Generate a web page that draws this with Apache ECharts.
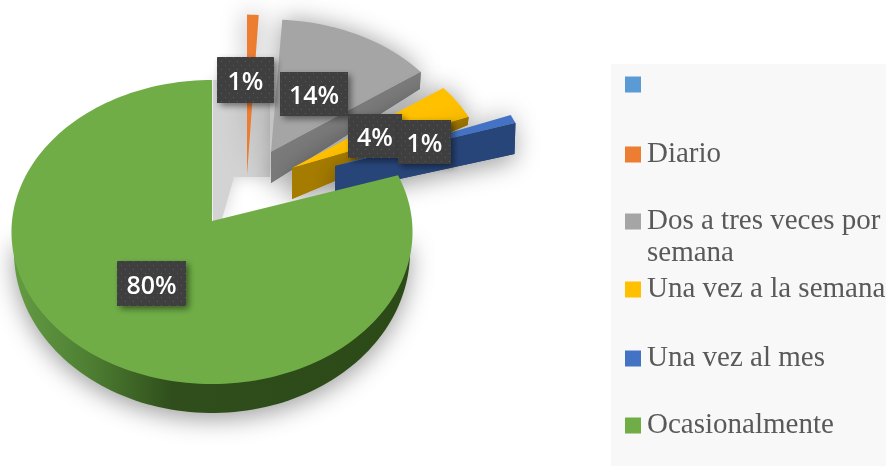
<!DOCTYPE html>
<html><head><meta charset="utf-8">
<style>html,body{margin:0;padding:0;background:#fff}#c{width:886px;height:466px}</style>
<script src="https://cdn.jsdelivr.net/npm/echarts@6/dist/echarts.min.js"></script>
</head><body><div id="c"></div>
<script>
const categories = [' ', 'Diario', 'Dos a tres veces por semana', 'Una vez a la semana', 'Una vez al mes', 'Ocasionalmente'];
const values = [0, 1, 14, 4, 1, 80];
const colors = ['#5b9bd5', '#ed7d31', '#a5a5a5', '#ffc000', '#4472c4', '#70ad47'];
const wallColors = [null, null, '#7b7b7b', '#a67c00', '#274579', null];

const total = values.reduce((a, b) => a + b, 0);
const P = 0.0724;                          // perspective of the tilted disc
// explosion layout: apex, horizontal and vertical scale, wall depth inner/outer
const sliceLayout = [
  null,
  { ax: 247, ay: 175, K: 200, k: 172, d0: 0, d1: 0 },
  { ax: 271, ay: 152, K: 193, k: 142, d0: 31, d1: 17 },
  { ax: 292, ay: 168, K: 195, k: 142, d0: 31, d1: 8 },
  { ax: 335, ay: 166, K: 194, k: 142, d0: 27, d1: 31 },
  { ax: 212, ay: 221, K: 200, k: 151.2, d0: 0, d1: 0 }
];
const labelLayout = [null, [217, 57, 57, 46], [280, 72, 68, 44], [348, 114, 54, 44], [398, 120, 53, 44], [117, 261, 69, 45]];
const legendTops = [86, 156, 223, 291, 360, 427];

function startAngle(i) { let s = 0; for (let j = 0; j < i; j++) s += values[j]; return s / total * 2 * Math.PI; }
function project(L, a) {
  const u = Math.sin(a), v = Math.cos(a), d = 1 + P * v;
  return [L.ax + L.K * u / d, L.ay - L.k * v / d];
}
function arc(L, a0, a1) {
  const n = Math.max(2, Math.ceil((a1 - a0) / 0.03)), pts = [];
  for (let i = 0; i <= n; i++) pts.push(project(L, a0 + (a1 - a0) * i / n));
  return pts;
}
const soft = { shadowBlur: 24, shadowColor: 'rgba(0,0,0,0.38)', shadowOffsetX: 0, shadowOffsetY: 6 };

function renderSlice(i) {
  return function (params, api) {
    const v = api.value(0), L = sliceLayout[i], children = [];
    if (!v) return { type: 'group', children };
    const a0 = startAngle(i), a1 = a0 + v / total * 2 * Math.PI;
    const top = [[L.ax, L.ay]].concat(arc(L, a0, a1));
    if (i === 5) {
      const B = { ax: L.ax, ay: 240, K: 197.5, k: 160.5 };
      children.push({
        type: 'polygon', shape: { points: arc(B, Math.PI / 2, Math.PI * 1.5) },
        style: Object.assign({
          fill: { type: 'linear', x: 13, y: 0, x2: 410, y2: 0, global: true, colorStops: [
            { offset: 0, color: '#649c43' }, { offset: 0.2, color: '#4d7d32' },
            { offset: 0.4, color: '#2f4e1b' }, { offset: 1, color: '#2c4a18' }] }
        }, soft)
      });
      children.push({ type: 'polygon', shape: { points: top }, style: { fill: colors[i] } });
    } else {
      if (L.d0 || L.d1) {
        const o = project(L, a1);
        children.push({
          type: 'polygon',
          shape: { points: [[L.ax, L.ay], o, [o[0] - 1, o[1] + L.d1], [L.ax, L.ay + L.d0]] },
          style: Object.assign({ fill: wallColors[i] }, soft)
        });
      }
      children.push({ type: 'polygon', shape: { points: top },
        style: Object.assign({ fill: colors[i] }, soft, { shadowOffsetY: 0 }) });
      if (L.d0 || L.d1) {
        const o = project(L, a1);
        children.push({
          type: 'polygon',
          shape: { points: [[L.ax, L.ay], o, [o[0] - 1, o[1] + L.d1], [L.ax, L.ay + L.d0]] },
          style: { fill: wallColors[i] }
        });
      }
    }
    return { type: 'group', children };
  };
}

// dotted texture of the value labels
const tex = document.createElement('canvas');
tex.width = tex.height = 8;
(function () {
  const c = tex.getContext('2d');
  c.fillStyle = '#3f3f3f'; c.fillRect(0, 0, 8, 8);
  c.fillStyle = '#5a5a5a'; c.fillRect(1, 1, 1, 1); c.fillRect(5, 5, 1, 1);
})();

function renderLabel(params, api) {
  const i = params.dataIndex, v = api.value(0), b = labelLayout[i];
  if (!v) return { type: 'group', children: [] };
  return {
    type: 'group',
    children: [
      { type: 'rect', shape: { x: b[0], y: b[1], width: b[2], height: b[3] },
        style: { fill: { image: tex, repeat: 'repeat' }, shadowBlur: 6, shadowOffsetX: 3, shadowOffsetY: 3, shadowColor: 'rgba(0,0,0,0.45)' } },
      { type: 'text', style: {
          text: Math.round(v / total * 100) + '%', x: b[0] + b[2] / 2, y: b[1] + b[3] / 2 + 3,
          align: 'center', verticalAlign: 'middle', fill: '#fff',
          font: '600 25px "Open Sans", sans-serif' } }
    ]
  };
}

// cast shadow of the pulled-out slices, lying in the gap of the green slice
function renderCast() {
  const A = sliceLayout[5];
  return { type: 'group', children: [
    { type: 'polygon', shape: { points: [[A.ax + 1, A.ay - 141], [A.ax + 58, A.ay - 141], [A.ax + 58, A.ay - 44], [A.ax + 22, A.ay - 44], [A.ax + 10, A.ay - 2], [A.ax + 1, A.ay]] },
      style: { fill: '#d3d3d3', shadowBlur: 16, shadowColor: '#d3d3d3' } }
  ] };
}

const series = categories.map((name, i) => ({
  type: 'custom', coordinateSystem: 'none', name: name, z: 3 + i,
  itemStyle: { color: colors[i] }, silent: true, animation: false,
  data: [[values[i]]], renderItem: renderSlice(i)
}));
series.unshift({ type: 'custom', coordinateSystem: 'none', z: 2, silent: true, animation: false, data: [[1]], renderItem: renderCast });
series.push({ type: 'custom', coordinateSystem: 'none', z: 20, silent: true, animation: false,
  data: values.map(v => [v]), renderItem: renderLabel });

const firstLine = { 'Dos a tres veces por semana': 'Dos a tres veces por' };
const legendFont = { fontFamily: '"Liberation Serif", serif', fontSize: 29, color: '#595959' };
const legends = categories.map((name, i) => ({
  data: [name], orient: 'vertical', left: 625, top: legendTops[i] - 16, height: 32,
  padding: 0, itemWidth: 16, itemHeight: 16, itemGap: 0, icon: 'rect', selectedMode: false,
  formatter: n => firstLine[n] || n, textStyle: Object.assign({ padding: [0, 0, 0, 1] }, legendFont)
}));

const chart = echarts.init(document.getElementById('c'), null, { renderer: 'canvas' });
chart.setOption({
  backgroundColor: '#fff', animation: false,
  legend: legends, series: series,
  graphic: [
    { type: 'rect', z: -1, shape: { x: 611, y: 64, width: 275, height: 402 }, style: { fill: '#f8f8f8' } },
    { type: 'text', z: 5, style: { text: 'semana', x: 647, y: 253, verticalAlign: 'middle',
        font: '29px "Liberation Serif", serif', fill: '#595959' } }
  ]
});
</script></body></html>
